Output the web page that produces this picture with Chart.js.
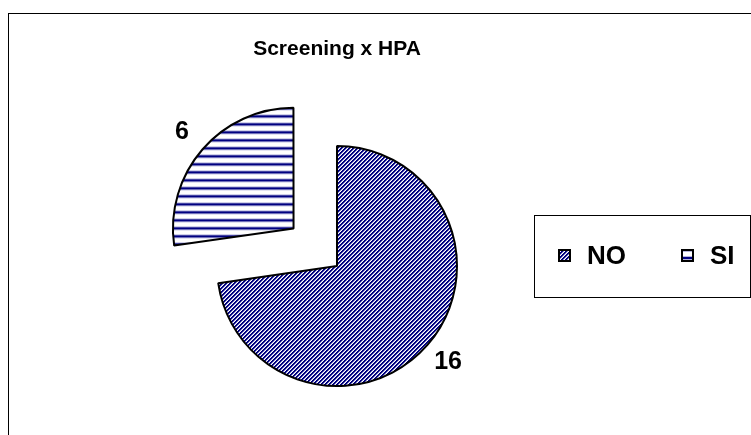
<!DOCTYPE html>
<html>
<head>
<meta charset="utf-8">
<script src="https://cdn.jsdelivr.net/npm/chart.js@4.4.0/dist/chart.umd.min.js"></script>
<style>
  html, body { margin: 0; padding: 0; background: #fff; }
  #wrap { position: relative; width: 751px; height: 435px; }
</style>
</head>
<body>
<div id="wrap"><canvas id="screening"></canvas></div>
<script>
var titleText = 'Screening x HPA';
var categories = ['NO', 'SI'];
var counts = [16, 6];

var FONT = '"Liberation Sans", Arial, sans-serif';
var NAVY = '#000080';

// excel-like hatch fills
function diagonalPattern(){
  var c = document.createElement('canvas');
  c.width = 4; c.height = 4;
  var g = c.getContext('2d');
  g.fillStyle = '#fff';
  g.fillRect(0, 0, 4, 4);
  for (var x = 0; x < 4; x++) {
    for (var y = 0; y < 4; y++) {
      var m = (x + y) % 4;
      if (m === 0 || m === 1) {
        g.fillStyle = NAVY;
        g.fillRect(x, y, 1, 1);
      } else if (m === 2) {
        g.fillStyle = '#9c9cd0';
        g.fillRect(x, y, 1, 1);
      }
    }
  }
  return g.createPattern(c, 'repeat');
}

function horizontalPattern(){
  var c = document.createElement('canvas');
  c.width = 8; c.height = 8;
  var g = c.getContext('2d');
  g.fillStyle = '#fff';
  g.fillRect(0, 0, 8, 8);
  g.fillStyle = '#b4b4dc';
  g.fillRect(0, 0, 8, 1);
  g.fillRect(0, 3, 8, 1);
  g.fillStyle = NAVY;
  g.fillRect(0, 1, 8, 2);
  return g.createPattern(c, 'repeat');
}

var fills = [diagonalPattern(), horizontalPattern()];

var framePlugin = {
  id: 'frame',
  beforeDraw: function(chart){
    var ctx = chart.ctx;
    ctx.save();
    ctx.strokeStyle = '#000';
    ctx.lineWidth = 1;
    ctx.strokeRect(8.5, 13.5, 800, 500);
    ctx.restore();
  }
};

var valueLabels = {
  id: 'valueLabels',
  afterDatasetsDraw: function(chart){
    var ctx = chart.ctx;
    var meta = chart.getDatasetMeta(0);
    ctx.save();
    ctx.font = 'bold 25px ' + FONT;
    ctx.fillStyle = '#000';
    ctx.textAlign = 'center';
    ctx.textBaseline = 'middle';
    meta.data.forEach(function(arc, i){
      var p = arc.getProps(['x', 'y', 'startAngle', 'endAngle', 'outerRadius', 'circumference'], true);
      var mid = (p.startAngle + p.endAngle) / 2;
      var off = (arc.options.offset || 0) / 4;
      var fix = 1 - Math.sin(Math.min(Math.PI, p.circumference));
      var r = p.outerRadius + 27 + off + off * fix;
      ctx.fillText(String(counts[i]), p.x + Math.cos(mid) * r, p.y + Math.sin(mid) * r);
    });
    ctx.restore();
  }
};

var boxLegend = {
  id: 'boxLegend',
  afterDraw: function(chart){
    var ctx = chart.ctx;
    ctx.save();
    ctx.strokeStyle = '#000';
    ctx.lineWidth = 1;
    ctx.strokeRect(534.5, 215.5, 216, 82);
    ctx.font = 'bold 26px ' + FONT;
    ctx.textBaseline = 'middle';
    ctx.textAlign = 'left';
    var x = 558, cy = 256;
    categories.forEach(function(name, i){
      ctx.fillStyle = fills[i];
      ctx.fillRect(x, cy - 7, 13, 13);
      ctx.strokeStyle = '#000';
      ctx.lineWidth = 2;
      ctx.strokeRect(x + 1, cy - 6, 11, 11);
      ctx.fillStyle = '#000';
      ctx.fillText(name, x + 29, cy + 1);
      x += 29 + ctx.measureText(name).width + 55;
    });
    ctx.restore();
  }
};

var chart = new Chart(document.getElementById('screening').getContext('2d'), {
  type: 'pie',
  data: {
    labels: categories,
    datasets: [{
      data: counts,
      backgroundColor: fills,
      borderColor: '#000',
      borderWidth: 2,
      offset: [0, 230],
      hoverOffset: 0
    }]
  },
  options: {
    responsive: true,
    maintainAspectRatio: false,
    animation: false,
    radius: 120,
    layout: { padding: { left: 0, right: 77, top: 0, bottom: 0 } },
    plugins: {
      legend: { display: false },
      tooltip: { enabled: false },
      title: {
        display: true,
        text: titleText,
        color: '#000',
        font: { family: FONT, size: 21, weight: 'bold' },
        padding: { top: 37, bottom: 35 }
      }
    }
  },
  plugins: [framePlugin, valueLabels, boxLegend]
});
</script>
</body>
</html>
